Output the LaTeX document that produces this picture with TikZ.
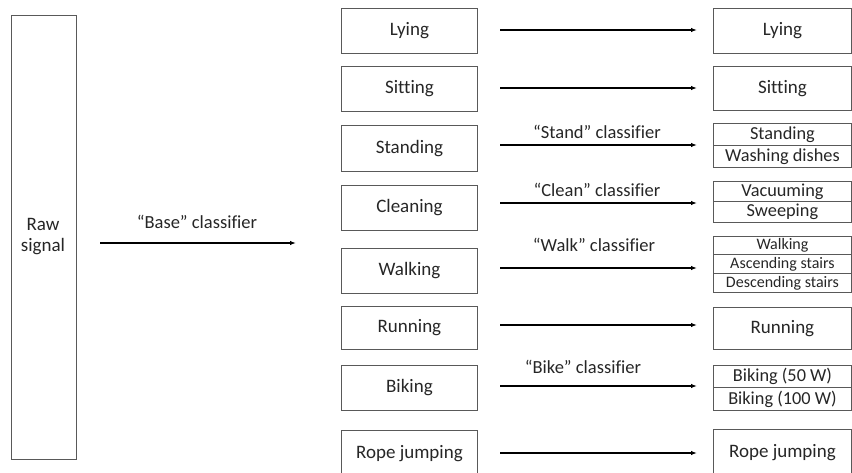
\documentclass[tikz,border=0pt]{standalone}
\usepackage{fontspec}
\setmainfont[Ligatures=NoCommon]{Carlito}
\usetikzlibrary{arrows.meta}
\begin{document}
\begin{tikzpicture}[x=1pt,y=-1pt,
  box/.style={draw=black!65,line width=0.9pt,inner sep=0pt,anchor=north west,
    font=\fontsize{19}{22}\selectfont,text=black!85},
  sbox/.style={box,font=\fontsize{18.3}{21}\selectfont},
  tbox/.style={box,font=\fontsize{16}{19}\selectfont},
  arr/.style={line width=1.3pt,-{Latex[length=6pt,width=4.5pt]}},
  lab/.style={font=\fontsize{18.5}{21}\selectfont,text=black!85,inner sep=0pt}]
\useasboundingbox (0,0) rectangle (852,472);
\clip (0,0) rectangle (852,472);
% raw signal
\node[box,minimum width=65pt,minimum height=444pt,align=center] (raw) at (11,15) {};
\node[lab,align=center,font=\fontsize{19}{21}\selectfont] (rawt) at (43,237) {Raw\\signal};
\coordinate (bs) at (100,243);
\coordinate (be) at (296,243);
\draw[arr] (bs) -- (be);
\node[lab] (blab) at (197,222) {\textquotedblleft Base\textquotedblright\ classifier};
% middle column
\foreach \n/\t/\y/\h in {m1/Lying/8/45, m2/Sitting/66/45, m3/Standing/125/46, m4/Cleaning/185/45,
  m5/Walking/248/45, m6/Running/306/43, m7/Biking/365/45, m8/Rope jumping/430/46}{
  \node[box,minimum width=136pt,minimum height=\h pt] (\n) at (341,\y) {\t};
}
% right column single boxes
\foreach \n/\t/\y/\h in {r1/Lying/8/45, r2/Sitting/66/44, r6/Running/307/42, r8/Rope jumping/429/47}{
  \node[box,minimum width=138pt,minimum height=\h pt] (\n) at (713,\y) {\t};
}
% split boxes
\node[sbox,minimum width=138pt,minimum height=22pt] (r3a) at (713,123) {Standing};
\node[sbox,minimum width=138pt,minimum height=22pt] (r3b) at (713,145) {Washing dishes};
\node[sbox,minimum width=138pt,minimum height=20pt] (r4a) at (713,181) {Vacuuming};
\node[sbox,minimum width=138pt,minimum height=21pt] (r4b) at (713,201) {Sweeping};
\node[tbox,minimum width=138pt,minimum height=18pt] (r5a) at (713,236) {Walking};
\node[tbox,minimum width=138pt,minimum height=19pt] (r5b) at (713,254) {Ascending stairs};
\node[tbox,minimum width=138pt,minimum height=19pt] (r5c) at (713,273) {Descending stairs};
\node[sbox,minimum width=138pt,minimum height=22pt] (r7a) at (713,365) {Biking (50 W)};
\node[sbox,minimum width=138pt,minimum height=23pt] (r7b) at (713,387) {Biking (100 W)};
% arrows
\foreach \i/\y in {1/30,2/88,3/145,4/203,5/268,6/325,7/386,8/453}{
  \coordinate (as\i) at (500,\y);
  \coordinate (ae\i) at (697,\y);
  \draw[arr] (as\i) -- (ae\i);
}
\node[lab] (l3) at (597,132) {\textquotedblleft Stand\textquotedblright\ classifier};
\node[lab] (l4) at (597,190) {\textquotedblleft Clean\textquotedblright\ classifier};
\node[lab] (l5) at (594,245) {\textquotedblleft Walk\textquotedblright\ classifier};
\node[lab] (l7) at (583,367) {\textquotedblleft Bike\textquotedblright\ classifier};
\end{tikzpicture}
\end{document}
